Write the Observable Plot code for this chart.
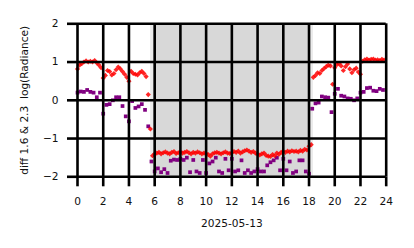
<!DOCTYPE html>
<html><head><meta charset="utf-8">
<script src="https://cdn.jsdelivr.net/npm/d3@7"></script>
<script src="https://cdn.jsdelivr.net/npm/@observablehq/plot@0.6"></script>
<style>body{margin:0;background:#fff} svg text{white-space:pre}</style>
</head><body><div id="chart"></div><script>
const xTicks = [0,2,4,6,8,10,12,14,16,18,20,22,24];
const yTicks = [-2,-1,0,1,2];
const xLabel = "2025-05-13";
const yLabel = "diff 1.6 & 2.3  log(Radiance)";
const nightStart = [5.68, 5.95];
const nightEnd = [18.0, 18.35];
// red diamonds, one value every 10 minutes from 00:00
const redValues = [
  0.82, 0.92, 0.96, 1.0, 1.03, 1.0,
  1.02, 1.0, 1.04, 0.98, 0.92, 0.85,
  0.58, 0.65, 0.78, 0.75, 0.66, 0.7,
  0.8, 0.87, 0.82, 0.75, 0.68, 0.6,
  0.5, 0.76, 0.7, 0.68, 0.66, 0.72,
  0.76, 0.7, 0.62, 0.15, -0.75, -1.45,
  -1.4, -1.38, -1.36, -1.4, -1.37, -1.35,
  -1.38, -1.4, -1.36, -1.34, -1.39, -1.37,
  -1.35, -1.38, -1.36, -1.34, -1.37, -1.4,
  -1.36, -1.38, -1.35, -1.37, -1.4, -1.38,
  -1.39, -1.42, -1.46, -1.4, -1.37, -1.36,
  -1.38, -1.4, -1.37, -1.35, -1.38, -1.39,
  -1.37, -1.34, -1.36, -1.33, -1.38, -1.35,
  -1.32, -1.3, -1.33, -1.36, -1.34, -1.38,
  -1.41, -1.43, -1.4, -1.38, -1.44, -1.46,
  -1.47, -1.42, -1.45, -1.38, -1.41, -1.36,
  -1.34, -1.36, -1.33, -1.35, -1.32, -1.34,
  -1.33, -1.35, -1.31, -1.33, -1.28, -1.3,
  -1.2, -1.16, 0.6, 0.65, 0.72, 0.7,
  0.78, 0.83, 0.88, 0.92, 0.9, 0.42,
  0.85, 0.93, 0.96, 0.9, 0.78, 0.88,
  0.95, 0.82, 0.72, 0.8, 0.84, 0.74,
  0.68, 1.02, 1.06, 1.08, 1.05, 1.07,
  1.08, 1.05, 1.06, 1.04, 1.07, 1.05
];
// purple squares, one value every 15 minutes from 00:00
const purpleValues = [
  0.2, 0.23, 0.22, 0.27,
  0.22, 0.2, 0.08, 0.2,
  -0.35, -0.12, -0.1, 0.0,
  0.08, 0.08, -0.15, -0.42,
  -0.55, -0.02, -0.2, -0.16,
  -0.1, -0.25, -0.68, -1.6,
  -1.86, -1.78, -1.88, -1.8,
  -1.9, -1.58, -1.55, -1.56,
  -1.53, -1.56, -1.5, -1.88,
  -1.56, -1.86, -1.9, -1.56,
  -1.9, -1.65, -1.6, -1.5,
  -1.86, -1.9, -1.53, -1.83,
  -1.53, -1.86, -1.83, -1.57,
  -1.9, -1.83, -1.9, -1.86,
  -1.8, -1.86, -1.86, -1.7,
  -1.62, -1.57, -1.5, -1.83,
  -1.53, -1.83, -1.6, -1.9,
  -1.86, -1.57, -1.57, -1.86,
  -1.92, -0.22, -0.08, -0.06,
  0.1, 0.08, 0.07, -0.31,
  0.17, 0.3, 0.12, 0.1,
  0.05, 0.04, 0.0, 0.05,
  0.2, 0.22, 0.32, 0.33,
  0.25, 0.24, 0.3, 0.27
];

const red = redValues.map((v, i) => ({t: i / 6, v}));
const purple = purpleValues.map((v, i) => ({t: i / 4, v}));
const bands = nightStart.map((a, i) => ({a, b: nightEnd[i]}));

const diamond = {
  draw(ctx, size) {
    const h = Math.sqrt(size / 2);
    ctx.moveTo(0, -h); ctx.lineTo(h, 0); ctx.lineTo(0, h); ctx.lineTo(-h, 0); ctx.closePath();
  }
};
const fmt = d => d < 0 ? "\u2212" + Math.abs(d) : String(d);

const chart = Plot.plot({
  width: 414,
  height: 248,
  marginLeft: 77,
  marginRight: 28.3,
  marginTop: 23.3,
  marginBottom: 71.7,
  style: {fontFamily: "DejaVu Sans", fontSize: "10.6px", background: "white", color: "#111", overflow: "visible"},
  x: {domain: [0, 24]},
  y: {domain: [-2, 2]},
  marks: [
    Plot.rect(bands, {x1: "a", x2: "b", fill: "black", fillOpacity: 0.078}),
    Plot.dot(purple, {x: "t", y: "v", symbol: "square", r: 2.1, fill: "#800080", stroke: "none"}),
    Plot.dot(red, {x: "t", y: "v", symbol: diamond, r: 2.05, fill: "#ff0000", fillOpacity: 0.85, stroke: "none"}),
    Plot.gridX({ticks: xTicks, stroke: "black", strokeOpacity: 1, strokeWidth: 2.6}),
    Plot.gridY({ticks: yTicks, stroke: "black", strokeOpacity: 1, strokeWidth: 2.6}),
    Plot.axisX({ticks: xTicks, tickSize: 10, tickPadding: 11, strokeWidth: 2.6, stroke: "black", tickFormat: fmt, label: null, fontSize: 10.6}),
    Plot.axisY({ticks: yTicks, tickSize: 10, tickPadding: 9, strokeWidth: 2.6, stroke: "black", tickFormat: fmt, label: null, fontSize: 10.6}),
    Plot.text([xLabel], {frameAnchor: "bottom", dy: 46.4, textAnchor: "middle", lineAnchor: "middle", fontSize: 10.6, text: d => d}),
    Plot.text([yLabel], {frameAnchor: "left", dx: -53, rotate: -90, textAnchor: "middle", lineAnchor: "middle", fontSize: 10.6, text: d => d})
  ]
});
document.getElementById("chart").appendChild(chart);
</script></body></html>
